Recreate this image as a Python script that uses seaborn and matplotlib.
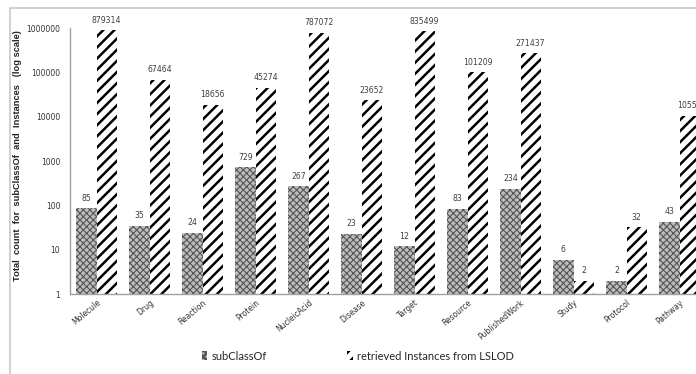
import numpy as np
import pandas as pd
import matplotlib
matplotlib.use("Agg")
import matplotlib.pyplot as plt
import seaborn as sns
from matplotlib.patches import Rectangle, Patch

# values
categories = ["Molecule", "Drug", "Reaction", "Protein", "NucleicAcid", "Disease",
              "Target", "Resource", "PublishedWork", "Study", "Protocol", "Pathway"]
subclass_counts = [85, 35, 24, 729, 267, 23, 12, 83, 234, 6, 2, 43]
instance_counts = [879314, 67464, 18656, 45274, 787072, 23652, 835499, 101209,
                   271437, 2, 32, 10552]
series_names = ["subClassOf", "retrieved Instances from LSLOD"]

df = pd.DataFrame({
    "category": categories * 2,
    "count": subclass_counts + instance_counts,
    "series": [series_names[0]] * len(categories) + [series_names[1]] * len(categories),
})

sns.set_style("white")
plt.rcParams["font.family"] = ["DejaVu Sans"]
plt.rcParams["hatch.linewidth"] = 1.8

fig = plt.figure(figsize=(6.96, 3.74), dpi=100)
# outer chart frame (Excel style), clipped on the right like the reference
fig.patches.append(Rectangle((10 / 696, -0.1), 2.0, 1.1 - 8 / 374,
                             transform=fig.transFigure, fill=False,
                             edgecolor="#c8c8c8", linewidth=1.2))

ax = fig.add_axes([70 / 696, 1 - 294 / 374, (706 - 70) / 696, (294 - 28) / 374])
sns.barplot(data=df, x="category", y="count", hue="series", order=categories,
            hue_order=series_names, width=0.76, ax=ax, legend=False,
            palette=["white", "white"], saturation=1)
ax.set_yscale("log")
ax.set_ylim(1, 1000000)
ax.set_xlim(-0.5, len(categories) - 0.5)

styles = [
    dict(hatch="xxxxx", edgecolor="#555555", facecolor="#bdbdbd", hlw=0.8),
    dict(hatch="///", edgecolor="black", facecolor="white", hlw=1.8),
]


def style_bar(bar, st):
    bar.set_hatch(st["hatch"])
    bar.set_edgecolor(st["edgecolor"])
    bar.set_facecolor(st["facecolor"])
    bar.set_linewidth(0)
    if hasattr(bar, "set_hatch_linewidth"):
        bar.set_hatch_linewidth(st["hlw"])


for cont, st in zip(ax.containers, styles):
    for bar in cont:
        style_bar(bar, st)
    ax.bar_label(cont, labels=[f"{int(v)}" for v in cont.datavalues],
                 padding=4, fontsize=5.6, color="#404040")

ax.set_yticks([1, 10, 100, 1000, 10000, 100000, 1000000])
ax.set_yticklabels(["1", "10", "100", "1000", "10000", "100000", "1000000"])
ax.minorticks_off()
ax.tick_params(axis="y", labelsize=5.5, colors="#333333", length=0, pad=7)
ax.tick_params(axis="x", labelsize=5.5, colors="#333333", length=0, pad=3)
for lab in ax.get_xticklabels():
    lab.set_rotation(40)
    lab.set_ha("right")
    lab.set_rotation_mode("anchor")

ax.set_xlabel("")
ax.set_ylabel("Total  count  for  subClassOf  and  Instances   (log scale)",
              fontsize=6.7, fontweight="bold", color="#222222", labelpad=1,
              family=["Liberation Sans"])
ax.yaxis.set_label_coords(-0.075, 0.52)
for side in ["top", "right"]:
    ax.spines[side].set_visible(False)
for side in ["left", "bottom"]:
    ax.spines[side].set_color("#a0a0a0")
    ax.spines[side].set_linewidth(1.0)

handles = []
for st in styles:
    h = Patch(facecolor=st["facecolor"], edgecolor=st["edgecolor"], hatch=st["hatch"], lw=0)
    if hasattr(h, "set_hatch_linewidth"):
        h.set_hatch_linewidth(st["hlw"])
    handles.append(h)
fig.legend(handles, series_names, loc="center", bbox_to_anchor=(358 / 696, 1 - 356 / 374),
           ncol=2, frameon=False, prop={"family": "Lato", "size": 8},
           handlelength=0.5, handleheight=0.8, columnspacing=7.2, handletextpad=0.4)

fig.savefig("out.png", dpi=100)
